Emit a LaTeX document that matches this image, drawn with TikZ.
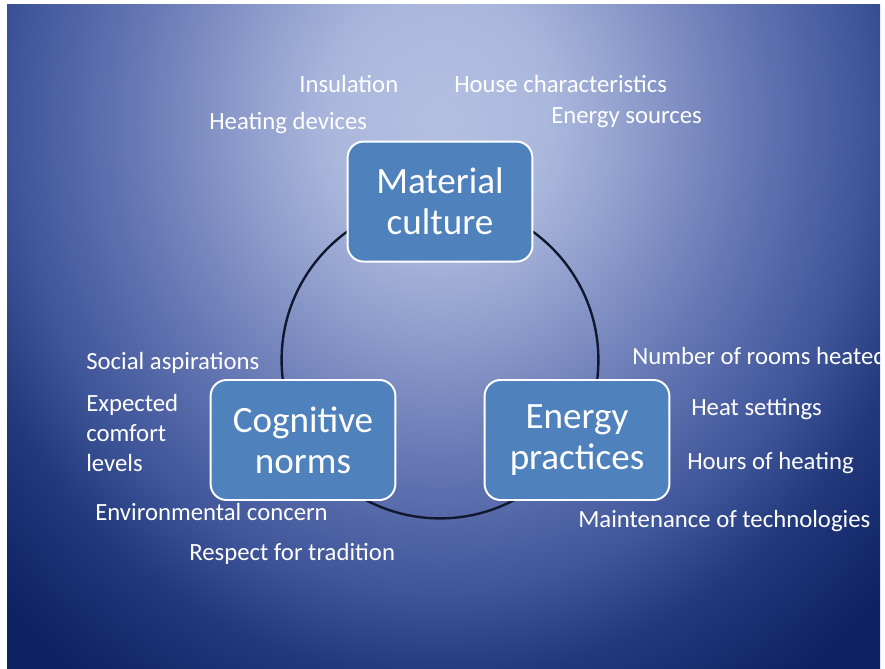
\documentclass[tikz,border=0pt]{standalone}
\usepackage{fontspec}
\setmainfont{Carlito}
\usepackage{tikz}
\definecolor{bgtop}{HTML}{B4C0E1}
\definecolor{bgpale}{HTML}{AAB7DC}
\definecolor{bgmid}{HTML}{8C9BCB}
\definecolor{bglow}{HTML}{6476B3}
\definecolor{bgdark}{HTML}{40569A}
\definecolor{bgnavy}{HTML}{22397C}
\definecolor{bgdeep}{HTML}{0F2262}
\definecolor{boxblue}{HTML}{4F81BD}
\definecolor{ringline}{HTML}{10182E}
\pgfdeclareradialshading{slidebg}{\pgfpoint{0bp}{0bp}}{color(0bp)=(bgtop); color(5bp)=(bgpale); color(9bp)=(bgmid); color(14bp)=(bglow); color(19bp)=(bgdark); color(22.5bp)=(bgnavy); color(27.5bp)=(bgdeep); color(50bp)=(bgdeep)}

\begin{document}
\begin{tikzpicture}[
  box/.style={rectangle, draw=white, line width=1.4pt, fill=boxblue, text=white, rounded corners=0.4cm, minimum width=4.62cm, minimum height=3cm, align=center, font=\fontsize{26.4}{29}\selectfont},
  lbl/.style={text=white, inner sep=0pt, anchor=base west, font=\fontsize{17.6}{21.3}\selectfont},
  ring/.style={draw=ringline, line width=1.7pt}]
  \useasboundingbox (0,0) rectangle (22.125,16.7);
  % Background
  \begin{scope}
    \clip (0.175,-0.1) rectangle (22,16.575);
    \shade[shading=slidebg] (-3,-1.8) rectangle (25,29.2);
  \end{scope}

  % Ring
  \coordinate (hub) at (11,7.7);
  \draw[ring] (hub) circle (3.96);

  % Nodes
  \node[box] (mat) at (11,11.66) {Material\\culture};
  \node[box] (cog) at (7.575,5.7) {Cognitive\\norms};
  \node[box] (ene) at (14.425,5.7) {Energy\\practices};

  % Labels
  \node[lbl] (ins) at (7.475,14.375) {Insulation};
  \node[lbl] (hch) at (11.35,14.375) {House characteristics};
  \node[lbl] (hdv) at (5.225,13.45) {Heating devices};
  \node[lbl] (esr) at (13.775,13.6) {Energy sources};
  \node[lbl] (soc) at (2.15,7.45) {Social aspirations};
  \node[lbl, anchor=north west, align=left] (exp) at (2.15,6.84) {Expected\\comfort\\levels};
  \node[lbl] (env) at (2.375,3.7) {Environmental concern};
  \node[lbl] (res) at (4.725,2.7) {Respect for tradition};
  \node[lbl] (nrh) at (15.8,7.575) {Number of rooms heated};
  \node[lbl] (hst) at (17.275,6.325) {Heat settings};
  \node[lbl] (hoh) at (17.175,4.95) {Hours of heating};
  \node[lbl] (mot) at (14.45,3.525) {Maintenance of technologies};
\end{tikzpicture}
\end{document}
